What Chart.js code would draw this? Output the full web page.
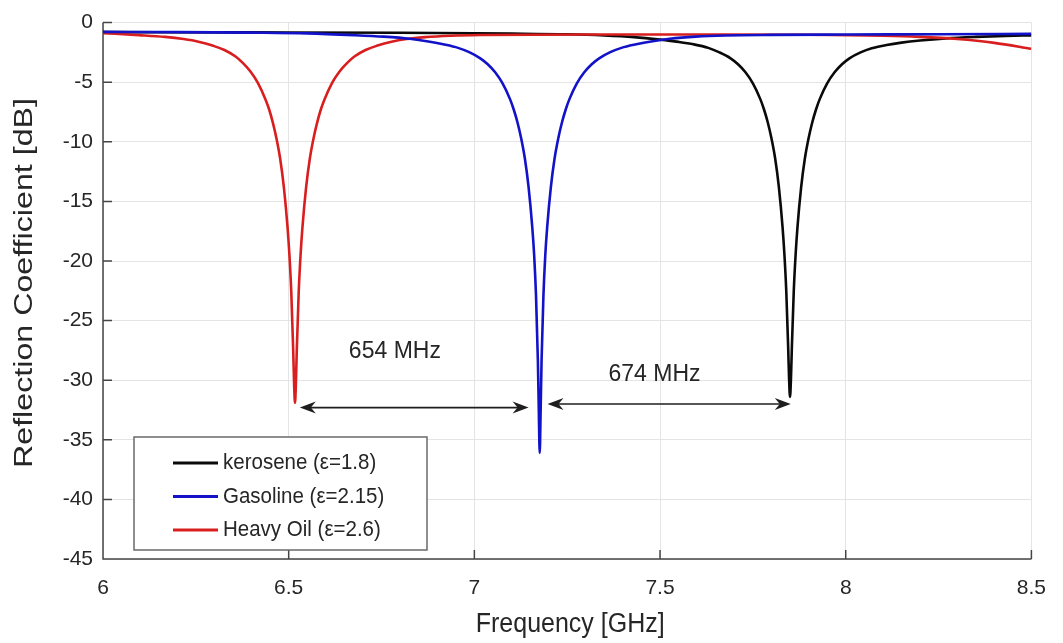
<!DOCTYPE html>
<html>
<head>
<meta charset="utf-8">
<script src="https://cdn.jsdelivr.net/npm/chart.js@4.4.1/dist/chart.umd.min.js"></script>
<style>
  html, body { margin: 0; padding: 0; background: #ffffff; }
  #wrap { width: 1063px; height: 643px; position: relative; }
</style>
</head>
<body>
<div id="wrap"><canvas id="c" width="1063" height="643"></canvas></div>
<script>
// ---------------- DATA ----------------
const seriesLabels = ['kerosene (\u03b5=1.8)', 'Gasoline (\u03b5=2.15)', 'Heavy Oil (\u03b5=2.6)'];
const seriesColors = ['#0a0a0a', '#1212c8', '#d81e1e'];

const keroseneFreq = [6.0, 6.4, 6.8, 7.1, 7.25, 7.35, 7.43, 7.5, 7.55, 7.59, 7.63, 7.66, 7.69, 7.71, 7.73, 7.75,
  7.77, 7.78, 7.79, 7.8, 7.81, 7.82, 7.83, 7.835, 7.84, 7.845, 7.8475, 7.85, 7.8525, 7.855, 7.86, 7.865, 7.87,
  7.88, 7.89, 7.9, 7.91, 7.92, 7.93, 7.95, 7.97, 7.99, 8.01, 8.04, 8.07, 8.11, 8.15, 8.2, 8.27, 8.35, 8.43, 8.5];
const keroseneDb = [-0.8, -0.82, -0.85, -0.92, -0.98, -1.08, -1.22, -1.43, -1.62, -1.82, -2.12, -2.5, -3.0, -3.5, -4.17, -5.1,
  -6.42, -7.29, -8.36, -9.7, -11.4, -13.8, -17.2, -19.5, -22.6, -27.2, -29.9, -31.4, -29.9, -27.2, -22.6, -19.5, -17.2,
  -13.8, -11.4, -9.7, -8.36, -7.29, -6.42, -5.1, -4.17, -3.5, -3.0, -2.5, -2.15, -1.88, -1.68, -1.5, -1.32, -1.2, -1.12, -1.07];

const gasolineFreq = [6.0, 6.2, 6.4, 6.55, 6.676, 6.756, 6.826, 6.876, 6.916, 6.956, 6.986, 7.016, 7.036, 7.056, 7.076,
  7.096, 7.106, 7.116, 7.126, 7.136, 7.146, 7.156, 7.161, 7.166, 7.171, 7.1735, 7.176, 7.1785, 7.181, 7.186, 7.191,
  7.196, 7.206, 7.216, 7.226, 7.236, 7.246, 7.256, 7.276, 7.296, 7.316, 7.336, 7.366, 7.396, 7.436, 7.476, 7.526,
  7.596, 7.676, 7.8, 8.0, 8.25, 8.5];
const gasolineDb = [-0.78, -0.8, -0.84, -0.9, -1.05, -1.18, -1.36, -1.58, -1.82, -2.12, -2.48, -3.0, -3.5, -4.17, -5.1,
  -6.42, -7.29, -8.36, -9.7, -11.4, -13.8, -17.2, -19.5, -22.9, -28.3, -32.5, -36.1, -32.5, -28.3, -22.9, -19.5,
  -17.2, -13.8, -11.4, -9.7, -8.36, -7.29, -6.42, -5.1, -4.17, -3.5, -3.0, -2.48, -2.12, -1.82, -1.58, -1.36,
  -1.18, -1.08, -1.03, -1.0, -0.98, -0.95];

const heavyOilFreq = [6.0, 6.097, 6.167, 6.217, 6.257, 6.297, 6.327, 6.357, 6.377, 6.397, 6.417, 6.437, 6.447, 6.457,
  6.467, 6.477, 6.487, 6.497, 6.502, 6.507, 6.512, 6.5145, 6.517, 6.5195, 6.522, 6.527, 6.532, 6.537, 6.547, 6.557,
  6.567, 6.577, 6.587, 6.597, 6.617, 6.637, 6.657, 6.677, 6.707, 6.737, 6.777, 6.817, 6.867, 6.937, 7.017, 7.3, 7.6,
  7.9, 8.1, 8.2, 8.3, 8.4, 8.5];
const heavyOilDb = [-0.88, -1.05, -1.2, -1.38, -1.6, -1.95, -2.3, -2.85, -3.4, -4.1, -5.05, -6.4, -7.25, -8.35,
  -9.7, -11.4, -13.8, -17.2, -19.5, -22.6, -27.3, -30.2, -31.9, -30.2, -27.3, -22.6, -19.5, -17.2, -13.8, -11.4,
  -9.7, -8.35, -7.25, -6.4, -5.05, -4.1, -3.4, -2.85, -2.3, -1.95, -1.6, -1.38, -1.22, -1.1, -1.04, -1.0, -1.0,
  -1.02, -1.1, -1.2, -1.38, -1.7, -2.2];

const xTickValues = [6, 6.5, 7, 7.5, 8, 8.5];
const xTickLabels = ['6', '6.5', '7', '7.5', '8', '8.5'];
const yTickValues = [0, -5, -10, -15, -20, -25, -30, -35, -40, -45];
const yTickLabels = ['0', '-5', '-10', '-15', '-20', '-25', '-30', '-35', '-40', '-45'];

const xTitle = 'Frequency [GHz]';
const yTitle = 'Reflection Coefficient [dB]';

// separation annotations (double arrows)
const arrowStartFreq = [6.530, 7.197];
const arrowEndFreq   = [7.146, 7.852];
const arrowLevelDb   = [-32.3, -32.0];
const arrowLabels    = ['654 MHz', '674 MHz'];
const arrowLabelFreq = [6.786, 7.485];
const arrowLabelDb   = [-27.6, -29.5];

// ---------------- CHART ----------------
const FONT = '"Liberation Sans", Arial, Helvetica, sans-serif';
const TEXT = '#262626';

function pts(xs, ys) { return xs.map((x, i) => ({ x: x, y: ys[i] })); }

const datasets = [
  { label: seriesLabels[0], data: pts(keroseneFreq, keroseneDb), borderColor: seriesColors[0], order: 3 },
  { label: seriesLabels[1], data: pts(gasolineFreq, gasolineDb), borderColor: seriesColors[1], order: 1 },
  { label: seriesLabels[2], data: pts(heavyOilFreq, heavyOilDb), borderColor: seriesColors[2], order: 2 }
].map(d => Object.assign(d, {
  showLine: true, pointRadius: 0, borderWidth: 2.6, fill: false,
  cubicInterpolationMode: 'monotone'
}));

const framePlugin = {
  id: 'frame',
  beforeDatasetsDraw(chart) {
    const { ctx, chartArea: a, scales } = chart;
    ctx.save();
    ctx.strokeStyle = '#454545';
    ctx.lineWidth = 1.5;
    ctx.beginPath();
    ctx.moveTo(a.left, a.top); ctx.lineTo(a.left, a.bottom); ctx.lineTo(a.right, a.bottom);
    yTickValues.forEach(v => { const y = scales.y.getPixelForValue(v); ctx.moveTo(a.left, y); ctx.lineTo(a.left + 9, y); });
    xTickValues.forEach(v => { const x = scales.x.getPixelForValue(v); ctx.moveTo(x, a.bottom); ctx.lineTo(x, a.bottom - 9); });
    ctx.stroke();
    ctx.restore();
  },
  afterDatasetsDraw(chart) {
    const { ctx, chartArea: a, scales } = chart;
    ctx.save();
    ctx.strokeStyle = '#1e1e1e';
    ctx.fillStyle = '#1e1e1e';
    ctx.lineWidth = 1.6;
    function head(xTip, y, dir) {
      ctx.beginPath();
      ctx.moveTo(xTip, y);
      ctx.lineTo(xTip - dir * 16, y - 6);
      ctx.lineTo(xTip - dir * 11, y);
      ctx.lineTo(xTip - dir * 16, y + 6);
      ctx.closePath();
      ctx.fill();
    }
    arrowStartFreq.forEach((f0, i) => {
      const x0 = scales.x.getPixelForValue(f0);
      const x1 = scales.x.getPixelForValue(arrowEndFreq[i]);
      const y = scales.y.getPixelForValue(arrowLevelDb[i]);
      ctx.beginPath(); ctx.moveTo(x0 + 8, y); ctx.lineTo(x1 - 8, y); ctx.stroke();
      head(x0, y, -1); head(x1, y, 1);
      ctx.save();
      ctx.font = '23px ' + FONT;
      ctx.fillStyle = TEXT;
      ctx.textAlign = 'center'; ctx.textBaseline = 'middle';
      const lx = scales.x.getPixelForValue(arrowLabelFreq[i]);
      const ly = scales.y.getPixelForValue(arrowLabelDb[i]);
      ctx.translate(lx, ly); ctx.scale(1, 1.08);
      ctx.fillText(arrowLabels[i], 0, 0);
      ctx.restore();
    });
    // legend
    const bx = a.left + 31, by = a.bottom - 122, bw = 293, bh = 113;
    ctx.fillStyle = '#ffffff';
    ctx.fillRect(bx, by, bw, bh);
    ctx.strokeStyle = '#6a6a6a'; ctx.lineWidth = 1.5;
    ctx.strokeRect(bx, by, bw, bh);
    [0, 1, 2].forEach(r => {
      const y = by + 26 + r * 33.5;
      ctx.strokeStyle = seriesColors[r]; ctx.lineWidth = 3;
      ctx.beginPath(); ctx.moveTo(bx + 39, y); ctx.lineTo(bx + 84, y); ctx.stroke();
      ctx.save();
      ctx.fillStyle = TEXT; ctx.font = '20.5px ' + FONT;
      ctx.textAlign = 'left'; ctx.textBaseline = 'middle';
      ctx.translate(bx + 89, y); ctx.scale(1, 1.08);
      ctx.fillText(seriesLabels[r], 0, 0);
      ctx.restore();
    });
    ctx.restore();
  },
  afterDraw(chart) {
    const { ctx, chartArea: a } = chart;
    ctx.save();
    ctx.fillStyle = TEXT;
    ctx.textAlign = 'center'; ctx.textBaseline = 'middle';
    ctx.font = '25px ' + FONT;
    ctx.save();
    ctx.translate((a.left + a.right) / 2 + 3, 625);
    ctx.scale(1, 1.08);
    ctx.fillText(xTitle, 0, 0);
    ctx.restore();
    ctx.save();
    ctx.translate(25, 283);
    ctx.rotate(-Math.PI / 2);
    const w = ctx.measureText(yTitle).width;
    ctx.scale(370 / w, 1);
    ctx.fillText(yTitle, 0, 0);
    ctx.restore();
    ctx.restore();
  }
};

new Chart(document.getElementById('c'), {
  type: 'scatter',
  data: { datasets: datasets },
  options: {
    responsive: false,
    animation: false,
    devicePixelRatio: 1,
    layout: { padding: { top: 19, right: 22, left: 0, bottom: 0 } },
    plugins: { legend: { display: false }, tooltip: { enabled: false }, title: { display: false } },
    scales: {
      x: {
        type: 'linear', min: 6, max: 8.5,
        afterBuildTicks: s => { s.ticks = xTickValues.map(v => ({ value: v })); },
        afterFit: s => { s.height = 84; },
        ticks: {
          color: TEXT, font: { family: FONT, size: 21 }, padding: 17, maxRotation: 0, autoSkip: false,
          callback: (v) => { const i = xTickValues.indexOf(v); return i >= 0 ? xTickLabels[i] : ''; }
        },
        grid: { color: '#e4e4e4', lineWidth: 1, drawTicks: false },
        border: { display: false }
      },
      y: {
        type: 'linear', min: -45, max: 0,
        afterBuildTicks: s => { s.ticks = yTickValues.map(v => ({ value: v })); },
        afterFit: s => { s.width = 103; },
        ticks: {
          color: TEXT, font: { family: FONT, size: 21 }, padding: 10, autoSkip: false,
          callback: (v) => { const i = yTickValues.indexOf(v); return i >= 0 ? yTickLabels[i] : ''; }
        },
        grid: { color: '#e4e4e4', lineWidth: 1, drawTicks: false },
        border: { display: false }
      }
    }
  },
  plugins: [framePlugin]
});
</script>
</body>
</html>
